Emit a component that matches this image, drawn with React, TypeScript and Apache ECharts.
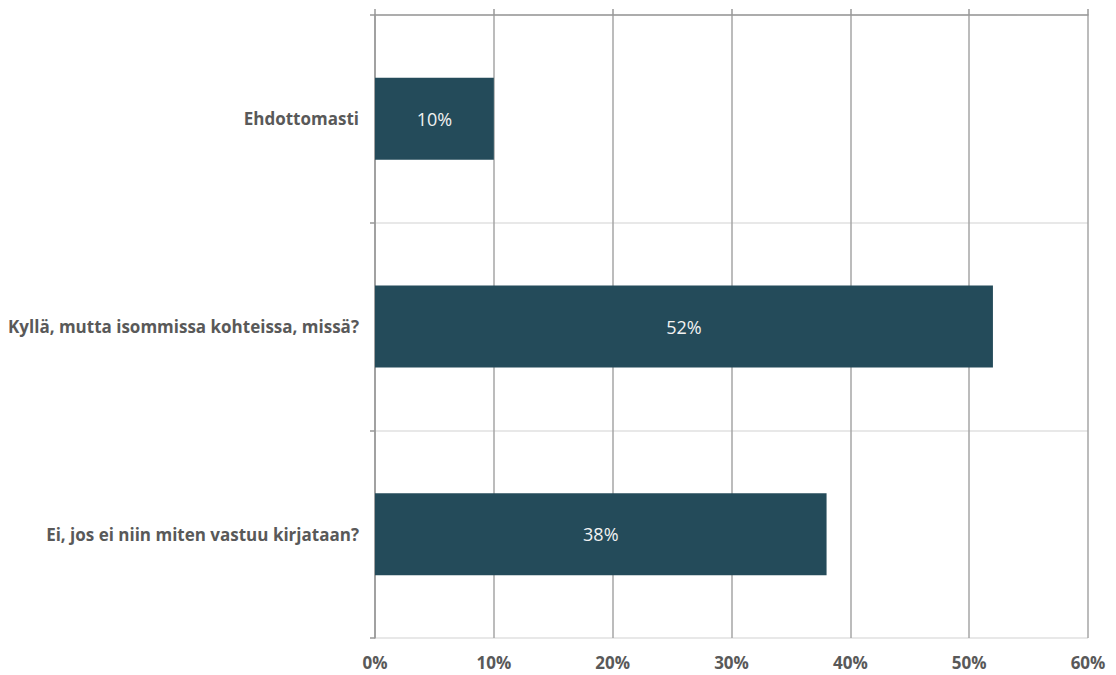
import React, { useEffect, useRef } from "react";
import * as echarts from "echarts";

const categories = [
  "Ehdottomasti",
  "Kyllä, mutta isommissa kohteissa, missä?",
  "Ei, jos ei niin miten vastuu kirjataan?",
];
const values = [10, 52, 38];
const valueTicks = [0, 10, 20, 30, 40, 50, 60];

export default function App() {
  const ref = useRef<HTMLDivElement>(null);
  useEffect(() => {
    if (!ref.current) return;
    const chart = echarts.init(ref.current, undefined, { renderer: "svg" });
    const font = "'Open Sans', 'Noto Sans', sans-serif";
    chart.setOption({
      animation: false,
      backgroundColor: "#ffffff",
      grid: { left: 375, right: 28, top: 15, bottom: 37, containLabel: false },
      xAxis: [
        {
          type: "value",
          position: "bottom",
          min: valueTicks[0],
          max: valueTicks[valueTicks.length - 1],
          interval: 10,
          axisLine: { show: false },
          axisTick: { show: false },
          axisLabel: {
            formatter: "{value}%",
            color: "#595959",
            fontWeight: "bold",
            fontSize: 17,
            fontFamily: font,
            margin: 16,
          },
          splitLine: { show: true, lineStyle: { color: "#a6a6a6", width: 1.5 } },
        },
        {
          type: "value",
          position: "top",
          min: valueTicks[0],
          max: valueTicks[valueTicks.length - 1],
          interval: 10,
          axisLine: { show: true, lineStyle: { color: "#999999", width: 1.5 } },
          axisTick: { show: true, length: 6, lineStyle: { color: "#999999", width: 1.5 } },
          axisLabel: { show: false },
          splitLine: { show: false },
        },
      ],
      yAxis: {
        type: "category",
        data: categories,
        inverse: true,
        axisLine: { show: true, lineStyle: { color: "#999999", width: 1.5 } },
        axisTick: { show: true, length: 5, lineStyle: { color: "#999999", width: 1.5 } },
        splitLine: { show: true, lineStyle: { color: "#e0e0e0", width: 1.5 } },
        axisLabel: {
          color: "#595959",
          fontWeight: "bold",
          fontSize: 17,
          fontFamily: font,
          margin: 16,
        },
      },
      series: [
        {
          type: "bar",
          data: values,
          xAxisIndex: 0,
          barWidth: 82,
          itemStyle: { color: "#244B5A" },
          label: {
            show: true,
            position: "inside",
            formatter: "{c}%",
            color: "#f2f2f2",
            fontSize: 18,
            fontFamily: font,
          },
        },
      ],
    });
    return () => chart.dispose();
  }, []);
  return <div ref={ref} style={{ width: 1116, height: 675, position: "absolute", left: 0, top: 0 }} />;
}
